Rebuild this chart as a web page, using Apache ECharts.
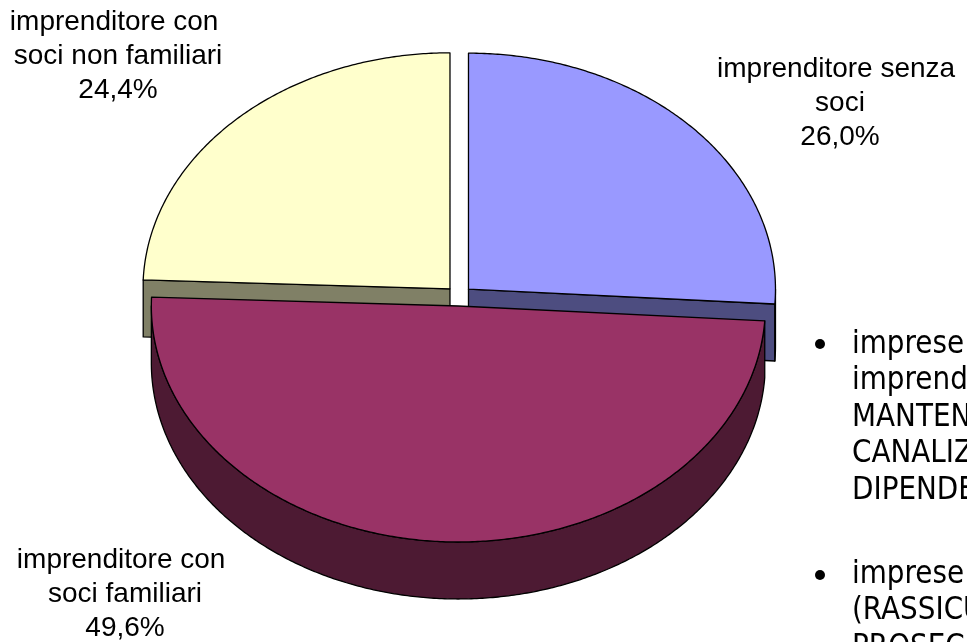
<!DOCTYPE html>
<html>
<head>
<meta charset="utf-8">
<script src="https://cdn.jsdelivr.net/npm/echarts@6/dist/echarts.min.js"></script>
<style>
  html, body { margin: 0; padding: 0; background: #ffffff; overflow: hidden; }
  #chart { width: 967px; height: 642px; }
</style>
</head>
<body>
<div id="chart"></div>
<script>
// Ownership structure of the firms (share of respondents, %)
const categories = ['imprenditore senza soci', 'imprenditore con soci familiari', 'imprenditore con soci non familiari'];
const shares = [26.0, 49.6, 24.4];

// Slice colours: top faces and darker side walls
const faceColors = ['#9999FF', '#993366', '#FFFFCC'];
const sideColors = ['#4D4D80', '#4D1A33', '#808066'];

// Side notes printed to the right of the pie
const noteA = ['imprese senza soci', 'imprenditore unico', 'MANTENIMENTO', 'CANALIZZAZIONE', 'DIPENDENTI'];
const noteB = ['imprese familiari', '(RASSICURAZIONE', 'PROSECUZIONE'];

// Tilted-pie geometry (pixels)
const PIE = { cx: 459, cy: 296, rx: 307, ry: 236, depth: 57, explode: 13 };
// Label boxes: centre and wrapping width
const LABELS = [
  { x: 840, y: 103, w: 262 },
  { x: 125, y: 594, w: 236 },
  { x: 118, y: 56, w: 236 }
];

const total = shares.reduce((a, b) => a + b, 0);
const fmt = v => v.toFixed(1).replace('.', ',') + '%';

function poly(points, style, z2) {
  return { type: 'polygon', shape: { points: points }, style: style, z2: z2 };
}

function renderItem(params, api) {
  const i = params.dataIndex;
  const v = api.value(0);
  let before = 0;
  for (let k = 0; k < i; k++) before += shares[k];
  const a0 = before / total * Math.PI * 2;
  const a1 = (before + v) / total * Math.PI * 2;
  const mid = (a0 + a1) / 2;
  const D = PIE.depth;
  const ox = PIE.cx + PIE.explode * Math.sin(mid);
  const oy = PIE.cy - PIE.explode * (PIE.ry / PIE.rx) * Math.cos(mid);
  const P = (t, dy) => [ox + PIE.rx * Math.sin(t), oy - PIE.ry * Math.cos(t) + (dy || 0)];
  const arc = (s, e, dy) => {
    const n = Math.max(2, Math.ceil(Math.abs(e - s) / (Math.PI / 360)));
    const pts = [];
    for (let j = 0; j <= n; j++) pts.push(P(s + (e - s) * j / n, dy));
    return pts;
  };
  const base = Math.cos(mid) < 0 ? 20 : 0;
  const edge = { stroke: '#000000', lineWidth: 1.3, lineJoin: 'round' };
  const wall = Object.assign({ fill: sideColors[i] }, edge);
  const children = [];

  // radial walls facing the viewer
  if (Math.sin(a0) < -1e-6) children.push(poly([[ox, oy], P(a0), P(a0, D), [ox, oy + D]], wall, base));
  if (Math.sin(a1) > 1e-6) children.push(poly([[ox, oy], P(a1), P(a1, D), [ox, oy + D]], wall, base));
  // outer rim on the front half
  const s = Math.max(a0, Math.PI / 2), e = Math.min(a1, Math.PI * 1.5);
  if (e > s) children.push(poly(arc(s, e, 0).concat(arc(s, e, D).reverse()), wall, base + 1));
  // top face
  children.push(poly([[ox, oy]].concat(arc(a0, a1, 0)), Object.assign({ fill: faceColors[i] }, edge), base + 2));

  // category label with its percentage
  const L = LABELS[i];
  children.push({
    type: 'text', x: L.x, y: L.y, z2: 100,
    style: {
      text: categories[i] + '\n' + fmt(v),
      width: L.w, overflow: 'break',
      fill: '#000000', font: '28px "Liberation Sans", Arial, sans-serif',
      lineHeight: 34, align: 'center', verticalAlign: 'middle'
    }
  });
  return { type: 'group', children: children };
}

const noteFont = '32px "DejaVu Sans", sans-serif';
function noteBlock(lines, top, bulletY) {
  return [
    { type: 'circle', shape: { cx: 820, cy: bulletY, r: 5 }, style: { fill: '#000000' } },
    { type: 'text', x: 852, y: top, scaleX: 0.87,
      style: { text: lines.join('\n'), font: noteFont, fill: '#000000', lineHeight: 36.6, verticalAlign: 'top' } }
  ];
}

const chart = echarts.init(document.getElementById('chart'), null, { renderer: 'canvas' });
chart.setOption({
  backgroundColor: '#ffffff',
  animation: false,
  series: [{
    type: 'custom',
    coordinateSystem: 'none',
    silent: true,
    data: shares,
    renderItem: renderItem
  }],
  graphic: { elements: noteBlock(noteA, 326, 344).concat(noteBlock(noteB, 556, 575)) }
});
</script>
</body>
</html>
